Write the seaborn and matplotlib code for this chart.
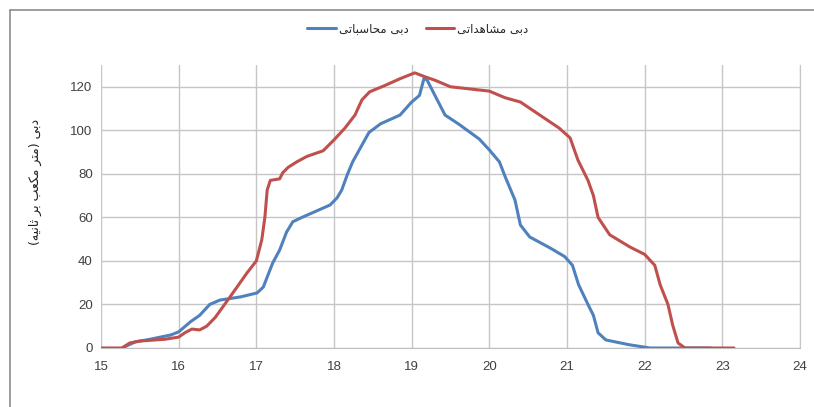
import numpy as np
import pandas as pd
import seaborn as sns
import matplotlib.pyplot as plt
from matplotlib.lines import Line2D

# observed discharge (red)
red_x = [15.0, 15.27, 15.37, 15.5, 15.82, 16.0, 16.08, 16.17, 16.27, 16.36, 16.47, 16.66,
         16.88, 17.0, 17.07, 17.11, 17.14, 17.18, 17.3, 17.34, 17.41, 17.52, 17.65, 17.86,
         18.0, 18.14, 18.27, 18.36, 18.46, 18.65, 18.85, 19.04, 19.17, 19.3, 19.5, 19.75,
         20.0, 20.2, 20.4, 20.65, 20.9, 21.04, 21.14, 21.27, 21.34, 21.4, 21.55, 21.81,
         22.0, 22.13, 22.2, 22.3, 22.36, 22.43, 22.52, 23.15]
red_y = [0, 0, 2.3, 3.2, 4, 5, 7, 8.7, 8.3, 10, 14, 23.4,
         34.5, 40, 49.7, 60, 72.6, 77, 77.7, 80.5, 83, 85.5, 88, 90.6,
         95.6, 101, 107, 114, 117.7, 120.5, 123.7, 126.4, 124.6, 123, 120, 119,
         118, 115, 113, 107, 101, 96.5, 86.4, 77, 70, 60, 52, 46.4,
         43, 38, 29, 20, 10.6, 2.3, 0, 0]

# computed discharge (blue)
blue_x = [15.27, 15.44, 15.63, 15.9, 16.0, 16.15, 16.27, 16.4, 16.53, 16.8, 17.01, 17.09,
          17.14, 17.21, 17.3, 17.39, 17.47, 17.6, 17.95, 18.04, 18.1, 18.17, 18.24, 18.31,
          18.45, 18.6, 18.85, 19.0, 19.1, 19.16, 19.2, 19.3, 19.43, 19.6, 19.87, 20.0,
          20.13, 20.2, 20.33, 20.4, 20.52, 20.78, 20.97, 21.07, 21.15, 21.27, 21.34, 21.4,
          21.5, 21.8, 22.07, 22.85]
blue_y = [0, 2.8, 4, 6, 7.4, 12, 15, 20, 22, 23.5, 25.3, 28,
          32.6, 39, 45, 53.3, 58, 60.2, 65.7, 69, 72.6, 79.5, 85.5, 90,
          99, 103, 107, 113, 116, 124, 123, 116, 107, 103, 96, 91,
          85.5, 79, 68, 56.5, 51, 46, 42, 38, 29, 20, 15, 7,
          3.7, 1.5, 0, 0]

x_ticks = list(range(15, 25))
y_ticks = list(range(0, 121, 20))

# Arabic letters pre-shaped (presentation forms), written in visual order
def visual(s):
    out = s[::-1]
    return out.translate(str.maketrans("()", ")("))

lbl_blue = visual("\uFEA9\uFE91\uFEF0 \uFEE3\uFEA4\uFE8E\uFEB3\uFE92\uFE8E\uFE97\uFEF0")
lbl_red = visual("\uFEA9\uFE91\uFEF0 \uFEE3\uFEB8\uFE8E\uFEEB\uFEAA\uFE8D\uFE97\uFEF0")
lbl_y = visual("\uFEA9\uFE91\uFEF0 (\uFEE3\uFE98\uFEAE \uFEE3\uFEDC\uFECC\uFE90 "
               "\uFE91\uFEAE \uFE9B\uFE8E\uFEE7\uFEF4\uFEEA)")

sns.set_style("white")
plt.rcParams['font.family'] = ['Liberation Sans', 'DejaVu Sans']

fig = plt.figure(figsize=(8.14, 4.07), dpi=100)
ax = fig.add_axes([101 / 814, 59 / 407, 699 / 814, 283 / 407])

blue_df = pd.DataFrame({"x": blue_x, "y": blue_y})
red_df = pd.DataFrame({"x": red_x, "y": red_y})
sns.lineplot(data=blue_df, x="x", y="y", ax=ax, color="#4F81BD", lw=2.2,
             estimator=None, label=lbl_blue, zorder=3)
sns.lineplot(data=red_df, x="x", y="y", ax=ax, color="#C0504D", lw=2.2,
             estimator=None, label=lbl_red, zorder=4)

ax.set_xlim(15, 24)
ax.set_ylim(0, 130)
ax.set_xticks(x_ticks)
ax.set_yticks(y_ticks)
ax.grid(True, color="#c6c6c6", lw=1)
for s in ["top", "left"]:
    ax.spines[s].set_visible(False)
ax.spines["right"].set_color("#c6c6c6")
ax.spines["bottom"].set_color("#bfbfbf")
ax.tick_params(axis="both", length=0, labelsize=9.5, colors="#404040", pad=6)
ax.tick_params(axis="x", pad=9)
ax.set_xlabel("")
ax.set_ylabel("")

handles, labels = ax.get_legend_handles_labels()
ax.get_legend().remove()
fig.legend(handles, labels, loc="center", bbox_to_anchor=(418 / 814, 1 - 29 / 407),
           ncol=2, frameon=False, handlelength=2.4, handletextpad=0.3,
           columnspacing=1.4, prop={"family": ["DejaVu Sans"], "size": 8.5})

fig.text(35 / 814, 1 - 182 / 407, lbl_y, rotation=90, ha="center", va="center",
         fontsize=9, family=["DejaVu Sans"], color="#222222")

# outer chart frame (only top and left edges show)
fig.lines.append(Line2D([10 / 814, 1.0], [1 - 10 / 407, 1 - 10 / 407],
                        transform=fig.transFigure, color="#8c8c8c", lw=1.2))
fig.lines.append(Line2D([10 / 814, 10 / 814], [0.0, 1 - 10 / 407],
                        transform=fig.transFigure, color="#8c8c8c", lw=1.2))

fig.savefig("out.png", dpi=100)
